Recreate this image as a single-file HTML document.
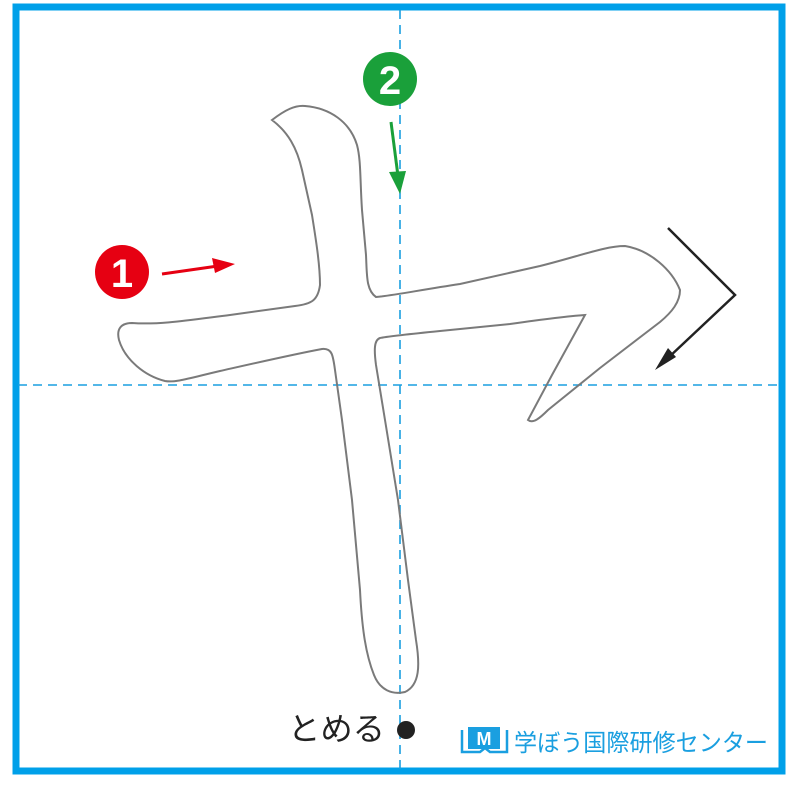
<!DOCTYPE html>
<html><head><meta charset="utf-8"><style>
html,body{margin:0;padding:0;background:#fff}
</style></head><body>
<svg width="800" height="788" viewBox="0 0 800 788" xmlns="http://www.w3.org/2000/svg">
<rect x="0" y="0" width="800" height="788" fill="#fff"/>
<rect x="16" y="7" width="766" height="764" fill="none" stroke="#00a0e9" stroke-width="7"/>
<line x1="400" y1="10" x2="400" y2="770" stroke="#1a9fe0" stroke-width="1.6" stroke-dasharray="9,6"/>
<line x1="18" y1="385" x2="780" y2="385" stroke="#1a9fe0" stroke-width="1.6" stroke-dasharray="9,6"/>
<path d="M272,120 C285,110 295,105 305,106 C330,108 350,122 357,145 C361,160 360,180 362,210 L366,255 C367,275 366,290 376,297 C390,296 420,290 460,284 L540,266 C580,256 605,246 625,246 C650,250 672,270 680,290 C680,302 672,312 660,322 L600,368 L548,410 C540,418 533,424 528,420 L552,375 L585,315 C570,316 545,319 510,324 L440,331 C410,334 390,336 380,338 C374,340 374,350 376,365 L385,420 L398,500 L408,580 L416,640 C420,665 420,685 405,692 C392,695 380,690 374,675 C366,655 362,630 360,590 L352,500 L342,420 L335,370 C333,355 332,348 322,349 C295,354 260,362 220,371 C190,378 175,383 165,381 C145,376 125,360 119,340 C116,328 122,323 132,323 C160,325 190,320 230,315 L295,306 C312,304 318,300 320,285 C320,265 316,240 312,215 L302,170 C297,148 288,132 272,120 Z" fill="none" stroke="#7a7a7a" stroke-width="2"/>
<circle cx="122" cy="272" r="27" fill="#e60012"/>
<text x="122" y="287" font-family="Liberation Sans, sans-serif" font-size="40" font-weight="bold" fill="#fff" text-anchor="middle">1</text>
<line x1="162" y1="274" x2="218" y2="266" stroke="#e60012" stroke-width="3"/>
<polygon points="235,264 212,258 215,273" fill="#e60012"/>
<circle cx="390" cy="79" r="27" fill="#1aa03a"/>
<text x="390" y="94" font-family="Liberation Sans, sans-serif" font-size="40" font-weight="bold" fill="#fff" text-anchor="middle">2</text>
<line x1="391" y1="122" x2="398" y2="176" stroke="#1aa03a" stroke-width="3"/>
<polygon points="400,194 389,172 406,171" fill="#1aa03a"/>
<polyline points="668,228 735,295 668,358" fill="none" stroke="#222" stroke-width="2.5"/>
<polygon points="655,370 668,348 676,357" fill="#222"/>
<text x="288" y="740" font-family="Liberation Sans, 'Noto Sans CJK JP', sans-serif" font-size="32" fill="#222" textLength="97" lengthAdjust="spacingAndGlyphs">とめる</text>
<circle cx="406" cy="730" r="9" fill="#222"/>
<g fill="none" stroke="#1a9fe0" stroke-width="2.5">
<path d="M462,730 L462,752 L480,752 L485,748 L490,752 L507,752 L507,730"/>
</g>
<rect x="468" y="727" width="32" height="22" fill="#1a9fe0"/>
<text x="484" y="745" font-family="Liberation Sans, sans-serif" font-size="18" font-weight="bold" fill="#fff" text-anchor="middle">M</text>
<text x="514" y="751" font-family="Liberation Sans, 'Noto Sans CJK JP', sans-serif" font-size="24" fill="#1a9fe0" textLength="254" lengthAdjust="spacingAndGlyphs">学ぼう国際研修センター</text>
</svg>
</body></html>
